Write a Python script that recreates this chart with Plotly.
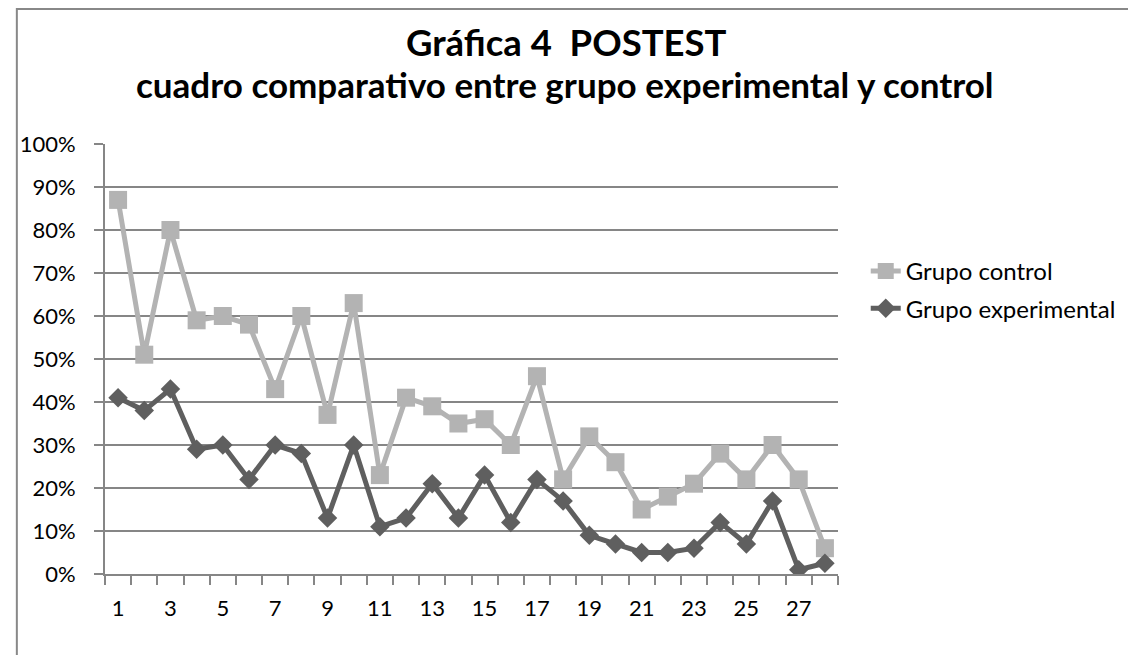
import plotly.graph_objects as go

categories = list(range(1, 29))
grupo_control = [87, 51, 80, 59, 60, 58, 43, 60, 37, 63, 23, 41, 39, 35, 36, 30, 46, 22, 32, 26, 15, 18, 21, 28, 22, 30, 22, 6]
grupo_experimental = [41, 38, 43, 29, 30, 22, 30, 28, 13, 30, 11, 13, 21, 13, 23, 12, 22, 17, 9, 7, 5, 5, 6, 12, 7, 17, 1, 2.5]
tick_labels = [str(i) for i in range(1, 29, 2)]

# page has an 8px body margin; work in page pixels and subtract it
OFF = 8
W, H = 1136 - OFF, 655 - OFF
L, R, T, B = 98 - OFF, 838 - OFF, 144 - OFF, 574.3 - OFF

def px(x):
    return (x - OFF - L) / (R - L)

def py(y):
    return (B - (y - OFF)) / (B - T)

FONT = "Lato"
GRID = "#868686"

fig = go.Figure()
fig.add_trace(go.Scatter(
    x=categories, y=[v / 100 for v in grupo_control], name="Grupo control",
    mode="lines+markers", legendgroup="c",
    line=dict(color="#B3B3B3", width=5),
    marker=dict(symbol="square", size=18, color="#B3B3B3"),
))
fig.add_trace(go.Scatter(
    x=categories, y=[v / 100 for v in grupo_experimental], name="Grupo experimental",
    mode="lines+markers", legendgroup="e",
    line=dict(color="#5F5F5F", width=5),
    marker=dict(symbol="diamond", size=15, color="#5F5F5F"),
))

fig.update_layout(
    width=W, height=H,
    margin=dict(l=L, r=W - R, t=T, b=H - B, pad=0),
    paper_bgcolor="white", plot_bgcolor="white",
    font=dict(family=FONT, color="black", size=22),
    showlegend=True,
    legend=dict(x=px(866), y=py(249), xanchor="left", yanchor="top",
                font=dict(size=24, family=FONT), tracegroupgap=3,
                bgcolor="rgba(0,0,0,0)", itemwidth=30),
    xaxis=dict(
        range=[0.5, 28.5], tickmode="array",
        tickvals=list(range(1, 29, 2)), ticktext=tick_labels,
        ticks="", showgrid=False, zeroline=False,
        showline=True, linecolor=GRID, linewidth=2,
        tickfont=dict(size=22, family=FONT, color="black"),
        ticklabelstandoff=14,
        minor=dict(tickmode="array", tickvals=[i + 0.5 for i in range(0, 29)],
                   ticks="outside", ticklen=9, tickcolor=GRID, tickwidth=2,
                   showgrid=False),
    ),
    yaxis=dict(
        range=[0, 1], tickmode="linear", tick0=0, dtick=0.1, tickformat=".0%",
        ticks="outside", ticklen=9, tickcolor=GRID, tickwidth=2,
        showgrid=True, gridcolor=GRID, gridwidth=2, zeroline=False,
        showline=True, linecolor=GRID, linewidth=2,
        tickfont=dict(size=22, family=FONT, color="black"),
        ticklabelstandoff=14,
    ),
    shapes=[dict(type="rect", xref="paper", yref="paper",
                 x0=px(9), x1=px(1132), y0=py(9), y1=py(700),
                 line=dict(color="#888888", width=2), layer="below")],
    annotations=[
        dict(text="<b>Gráfica 4  POSTEST</b>", xref="paper", yref="paper",
             x=px(564), y=py(42), xanchor="center", yanchor="middle",
             showarrow=False, font=dict(size=36.5, family=FONT, color="black")),
        dict(text="<b>cuadro comparativo entre grupo experimental y control</b>",
             xref="paper", yref="paper",
             x=px(562), y=py(84), xanchor="center", yanchor="middle",
             showarrow=False, font=dict(size=35, family=FONT, color="black")),
    ],
)

fig.write_html("out.html")
